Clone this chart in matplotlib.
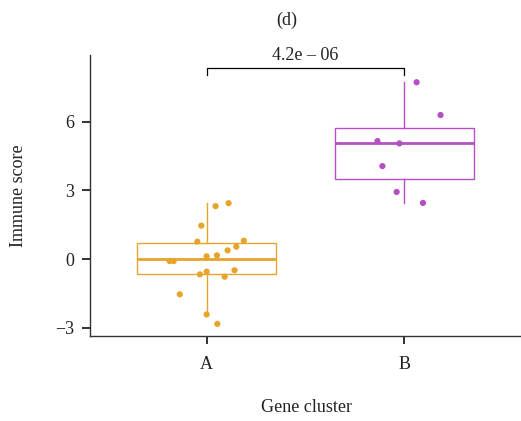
import matplotlib
matplotlib.use("Agg")
import matplotlib.pyplot as plt
import numpy as np

plt.rcParams['font.family'] = ['Liberation Serif', 'DejaVu Serif']

categories = ["A", "B"]
scores_A = [2.31, 2.44, 1.46, 0.76, 0.80, 0.54, 0.38, 0.16, 0.12, -0.09, -0.09,
            -0.55, -0.67, -0.49, -0.77, -1.54, -2.42, -2.83]
jitter_A = [0.045, 0.111, -0.027, -0.047, 0.188, 0.150, 0.106, 0.052, 0.0, -0.187,
            -0.167, 0.0, -0.034, 0.141, 0.091, -0.136, 0.0, 0.054]
scores_B = [7.72, 6.29, 5.15, 5.05, 4.06, 2.93, 2.45]
jitter_B = [0.062, 0.183, -0.136, -0.025, -0.111, -0.039, 0.094]
p_label = "4.2e \u2013 06"
colors = ["#E7A42B", "#B44FC4"]

fig = plt.figure(figsize=(5.21, 4.21), dpi=100)
ax = fig.add_axes([90/521, 85/421, 431/521, 281/421])

data = [scores_A, scores_B]
jit = [jitter_A, jitter_B]
for i, (vals, c) in enumerate(zip(data, colors)):
    pos = i + 1
    ax.boxplot([vals], positions=[pos], widths=0.70, showfliers=False, showcaps=False,
               patch_artist=True,
               boxprops=dict(facecolor='white', edgecolor=c, linewidth=1.0),
               whiskerprops=dict(color=c, linewidth=1.0),
               medianprops=dict(color=c, linewidth=2.0),
               zorder=1)
    ax.scatter(np.array(jit[i]) + pos, vals, s=20, color=c, edgecolors='none', zorder=3)

ax.set_xlim(0.41, 2.59)
ax.set_ylim(-3.36, 8.91)
ax.set_xticks([1, 2])
ax.set_xticklabels(categories)
ax.set_yticks([-3, 0, 3, 6])
ax.set_yticklabels(["\u22123", "0", "3", "6"])
ax.tick_params(axis='both', labelsize=13, length=5.5, width=1.3, color='#222222', labelcolor='#222222')
ax.tick_params(axis='x', pad=9)
ax.tick_params(axis='y', pad=6)
for s in ['top', 'right']:
    ax.spines[s].set_visible(False)
for s in ['left', 'bottom']:
    ax.spines[s].set_color('#333333')
    ax.spines[s].set_linewidth(1.0)

# significance bracket
ax.plot([1, 1, 2, 2], [8.04, 8.34, 8.34, 8.04], color='black', linewidth=0.9, clip_on=False)
ax.text(1.5, 8.5, p_label, ha='center', va='bottom', fontsize=13, color='#222222')

ax.set_ylabel("Immune score", fontsize=13, color='#222222', va='center')
ax.yaxis.set_label_coords(-0.167, 0.5)
ax.set_xlabel("Gene cluster", fontsize=13, color='#222222', va='center')
ax.xaxis.set_label_coords(0.503, -0.256)
fig.text(287/521, 1 - 20/421, "(d)", ha='center', va='center', fontsize=13, color='#222222')

fig.savefig("out.png", dpi=100)
